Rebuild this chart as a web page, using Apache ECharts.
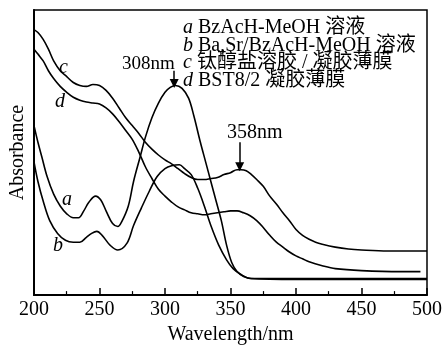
<!DOCTYPE html>
<html>
<head>
<meta charset="utf-8">
<script src="https://cdn.jsdelivr.net/npm/echarts@6/dist/echarts.min.js"></script>
<style>
  html, body { margin: 0; padding: 0; background: #fff; }
  #chart { width: 445px; height: 350px; }
</style>
</head>
<body>
<div id="chart"></div>
<script>
// wavelength (nm) and absorbance (arbitrary units)
const aNm = [200,203,206,210,215,220,225,230,234,238,242,247,251,255,260,264,267,272,276,281,285,290,295,300,304,308,313,318,322,327,331,335,339,343,347,351,355,360,366,400,450,500];
const aAbs = [1.73,1.56,1.41,1.21,1.03,0.91,0.83,0.79,0.79,0.86,0.95,1.01,0.97,0.86,0.73,0.70,0.75,0.91,1.16,1.41,1.61,1.81,1.96,2.07,2.12,2.14,2.11,2.01,1.83,1.56,1.36,1.16,0.96,0.76,0.51,0.33,0.24,0.19,0.17,0.17,0.17,0.17];

const bNm = [200,203,207,212,218,224,230,235,240,244,248,252,258,264,271,276,282,288,294,300,305,311,315,320,325,330,335,341,347,352,358,365,400,450,500];
const bAbs = [1.36,1.16,0.96,0.76,0.63,0.56,0.54,0.54,0.59,0.63,0.65,0.61,0.51,0.46,0.53,0.71,0.89,1.06,1.21,1.29,1.32,1.33,1.29,1.23,1.09,0.91,0.71,0.51,0.36,0.27,0.21,0.17,0.16,0.16,0.16];

const cNm = [200,203,207,211,215,220,225,230,235,240,245,250,255,260,265,270,275,280,285,290,295,300,305,310,315,320,325,330,335,340,345,350,355,358,362,366,370,375,380,385,390,395,400,405,410,415,420,430,440,450,470,500];
const cAbs = [2.71,2.68,2.61,2.51,2.39,2.29,2.23,2.17,2.14,2.13,2.15,2.14,2.09,2.01,1.91,1.81,1.73,1.65,1.56,1.49,1.43,1.38,1.34,1.29,1.24,1.20,1.18,1.18,1.19,1.20,1.23,1.25,1.28,1.28,1.27,1.23,1.18,1.11,1.01,0.93,0.84,0.76,0.67,0.61,0.57,0.54,0.52,0.49,0.47,0.46,0.45,0.45];

const dNm = [200,203,207,211,215,220,225,230,235,240,245,250,255,260,265,270,275,280,285,290,295,300,305,310,315,320,325,330,335,340,345,350,355,360,365,370,375,380,385,390,395,400,405,410,420,430,450,480,495];
const dAbs = [2.51,2.46,2.39,2.29,2.21,2.13,2.07,2.02,1.99,1.97,1.96,1.95,1.91,1.85,1.77,1.68,1.59,1.46,1.31,1.19,1.08,1.01,0.95,0.90,0.87,0.84,0.83,0.82,0.83,0.84,0.85,0.86,0.86,0.84,0.81,0.76,0.69,0.61,0.54,0.49,0.44,0.40,0.37,0.34,0.30,0.27,0.25,0.24,0.24];

const xTicks = [200, 250, 300, 350, 400, 450, 500];
const legendLetters = ['a', 'b', 'c', 'd'];
const legendTexts = ['BzAcH-MeOH 溶液', 'Ba,Sr/BzAcH-MeOH 溶液', '钛醇盐溶胶 / 凝胶薄膜', 'BST8/2 凝胶薄膜'];
// peak arrows: [wavelength, arrow top, arrow tip]
const peak308 = [307, 2.29, 2.16];
const peak358 = [357, 1.56, 1.31];

const FONT = '"Liberation Serif", "Noto Sans CJK SC", serif';

function pairs(xs, ys) { return xs.map((x, i) => [x, ys[i]]); }

function curve(name, xs, ys, extra) {
  return Object.assign({
    name: name,
    type: 'line',
    data: pairs(xs, ys),
    smooth: 0.35,
    showSymbol: false,
    silent: true,
    lineStyle: { color: '#000', width: 1.6 }
  }, extra || {});
}

function arrow(p) {
  return {
    silent: true,
    symbol: ['none', 'triangle'],
    symbolSize: [9, 9],
    lineStyle: { color: '#000', width: 1.5, type: 'solid' },
    label: { show: false },
    data: [[{ coord: [p[0], p[1]] }, { coord: [p[0], p[2]] }]]
  };
}

const chart = echarts.init(document.getElementById('chart'), null, { renderer: 'canvas' });

const graphics = legendLetters.map((l, i) => ({
  type: 'text',
  left: 183,
  top: 18 + i * 17.5,
  style: {
    text: '{i|' + l + '} ' + legendTexts[i],
    font: '20px ' + FONT,
    fill: '#000',
    rich: { i: { fontStyle: 'italic', fontFamily: FONT, fontSize: 20 } }
  }
}));
graphics.push(
  { type: 'text', left: 122, top: 55, style: { text: '308nm', font: '19px ' + FONT, fill: '#000' } },
  { type: 'text', left: 227, top: 123, style: { text: '358nm', font: '20px ' + FONT, fill: '#000' } },
  { type: 'text', left: 59, top: 58, style: { text: 'c', font: 'italic 20px ' + FONT, fill: '#000' } },
  { type: 'text', left: 55, top: 92, style: { text: 'd', font: 'italic 20px ' + FONT, fill: '#000' } },
  { type: 'text', left: 62, top: 190, style: { text: 'a', font: 'italic 20px ' + FONT, fill: '#000' } },
  { type: 'text', left: 53, top: 236, style: { text: 'b', font: 'italic 20px ' + FONT, fill: '#000' } }
);

chart.setOption({
  animation: false,
  backgroundColor: '#fff',
  grid: {
    left: 31, right: 16, top: 10, bottom: 49,
    show: true, borderColor: '#000', borderWidth: 1.5
  },
  xAxis: {
    type: 'value',
    min: 200, max: 500, interval: 50,
    name: 'Wavelength/nm',
    nameLocation: 'middle',
    nameGap: 24,
    nameTextStyle: { fontFamily: FONT, fontSize: 20, color: '#000' },
    axisLine: { lineStyle: { color: '#000', width: 2 } },
    axisTick: { inside: true, length: 7, lineStyle: { color: '#000', width: 1.5 } },
    minorTick: { show: true, splitNumber: 2, length: 4, lineStyle: { color: '#000', width: 1.2 } },
    axisLabel: {
      margin: 5, fontFamily: FONT, fontSize: 20, color: '#000',
      formatter: v => xTicks.indexOf(v) >= 0 ? String(v) : ''
    },
    splitLine: { show: false }
  },
  yAxis: {
    type: 'value',
    min: 0, max: 2.91,
    name: 'Absorbance',
    nameLocation: 'middle',
    nameGap: 6,
    nameTextStyle: { fontFamily: FONT, fontSize: 20, color: '#000' },
    axisLine: { show: true, lineStyle: { color: '#000', width: 2 } },
    axisTick: { show: false },
    axisLabel: { show: false },
    splitLine: { show: false }
  },
  series: [
    curve('a', aNm, aAbs, { markLine: arrow(peak308) }),
    curve('b', bNm, bAbs),
    curve('c', cNm, cAbs, { markLine: arrow(peak358) }),
    curve('d', dNm, dAbs)
  ],
  graphic: graphics
});
</script>
</body>
</html>
